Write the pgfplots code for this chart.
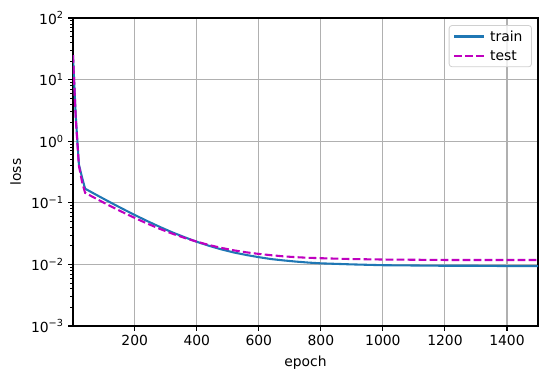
\documentclass[border=0pt]{standalone}
\usepackage{fontspec}
\setmainfont{DejaVu Sans}
\usepackage{pgfplots}
\pgfplotsset{compat=1.18}
\definecolor{mplblue}{HTML}{1F77B4}
\definecolor{mplm}{HTML}{BF00BF}
\definecolor{gridgray}{HTML}{B0B0B0}
\begin{document}
\begin{tikzpicture}
\begin{semilogyaxis}[
  scale only axis,
  width=465pt, height=308pt,
  xmin=1, xmax=1500,
  ymin=1e-3, ymax=1e2,
  xtick={200,400,600,800,1000,1200,1400},
  ytick={1e-3,1e-2,1e-1,1,10,100},
  yticklabels={10\textsuperscript{−3},10\textsuperscript{−2},10\textsuperscript{−1},10\textsuperscript{0},10\textsuperscript{1},10\textsuperscript{2}},
  /pgf/number format/assume math mode=true,
  /pgf/number format/1000 sep={},
  tick label style={font=\fontsize{13.9}{16}\selectfont},
  label style={font=\fontsize{13.9}{16}\selectfont},
  xlabel={epoch}, ylabel={loss},
  grid=major,
  major grid style={color=gridgray, line width=1.1pt},
  axis line style={line width=1.1pt},
  tick align=outside,
  tick pos=left,
  major tick length=4.9pt,
  minor tick length=2.8pt,
  every tick/.style={black, line width=1.1pt},
  minor tick style={line width=0.83pt},
  xticklabel style={yshift=-1pt},
  yticklabel style={xshift=-1pt},
  legend style={at={(0.987,0.977)}, anchor=north east, draw=gridgray!60, line width=0.8pt, rounded corners=3pt, fill=white, fill opacity=0.8, text opacity=1, font=\fontsize{13.9}{16}\selectfont, row sep=4pt, inner xsep=4pt, inner ysep=3pt, nodes={inner xsep=5pt, inner ysep=2pt}},
  legend cell align=left,
  legend image code/.code={\draw[#1, line width=2.08pt] (0pt,0pt) -- (30pt,0pt);},
  xlabel style={yshift=-3pt},
  ylabel style={yshift=3pt},
]
\addplot[mplblue, line width=2.08pt] coordinates {
(1,25) (10,2.5) (20,0.42) (30,0.26) (40,0.1695) (60,0.1492) (80,0.1314) (100,0.1159) (120,0.1024) (140,0.0906) (160,0.0803) (180,0.0713) (200,0.0634) (240,0.0506) (280,0.0408) (320,0.0333) (360,0.0277) (400,0.0233) (440,0.0200) (480,0.0175) (520,0.0156) (560,0.0142) (600,0.0131) (640,0.0122) (680,0.0116) (720,0.0111) (760,0.0107) (800,0.0104) (900,0.0100) (1000,0.0097) (1100,0.0096) (1200,0.0095) (1300,0.0095) (1400,0.0094) (1500,0.0094)
};
\addlegendentry{train}
\addplot[mplm, line width=2.08pt, dash pattern=on 7.7pt off 3.3pt] coordinates {
(1,25) (10,2.3) (20,0.40) (30,0.22) (40,0.1454) (60,0.1284) (80,0.1136) (100,0.1006) (120,0.0893) (140,0.0795) (160,0.0709) (180,0.0634) (200,0.0568) (240,0.0461) (280,0.0379) (320,0.0317) (360,0.0270) (400,0.0234) (440,0.0206) (480,0.0185) (520,0.0169) (560,0.0157) (600,0.0148) (640,0.0141) (680,0.0135) (720,0.0131) (760,0.0128) (800,0.0126) (900,0.0122) (1000,0.0120) (1100,0.0119) (1200,0.0118) (1300,0.0118) (1400,0.0118) (1500,0.0118)
};
\addlegendentry{test}
\end{semilogyaxis}
\path (current axis.south west) ++(-73pt,-53pt) rectangle ++(547pt,379pt);
\end{tikzpicture}
\end{document}
